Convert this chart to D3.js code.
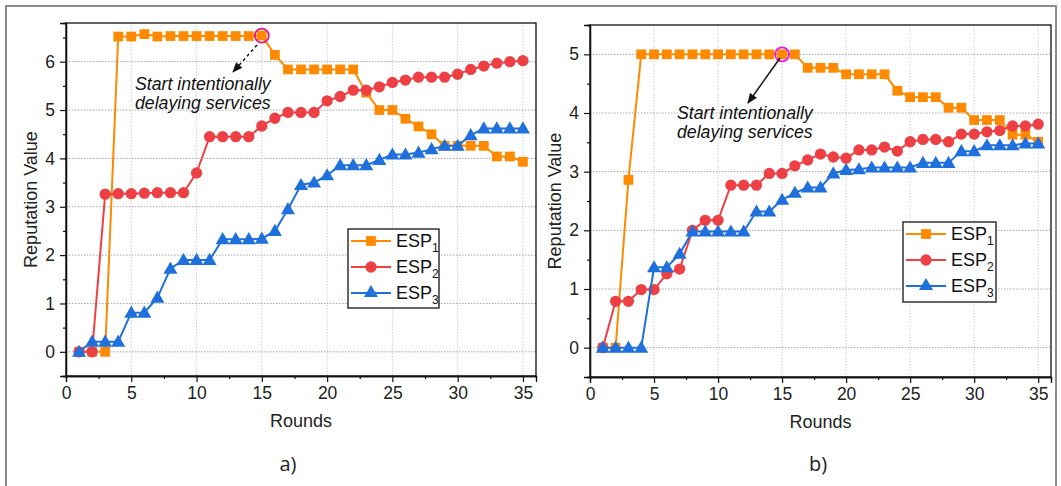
<!DOCTYPE html>
<html><head><meta charset="utf-8">
<script src="https://cdn.jsdelivr.net/npm/d3@7"></script>
<style>body{margin:0;background:#fff}svg{display:block}</style>
</head><body><svg id="c" width="1061" height="486"></svg>
<script>
const rounds = d3.range(1, 36);
const seriesNames = ["ESP1", "ESP2", "ESP3"];
const colors = ["#ff8a00", "#ee3f45", "#1f70dd"];
// Panel a)
const a_esp1 = [0,0,0,6.52,6.52,6.57,6.52,6.53,6.53,6.53,6.53,6.53,6.53,6.53,6.54,6.14,5.84,5.84,5.84,5.84,5.84,5.84,5.36,5.0,5.0,4.82,4.66,4.5,4.26,4.26,4.26,4.26,4.04,4.04,3.93];
const a_esp2 = [0,0,3.26,3.27,3.27,3.28,3.29,3.29,3.29,3.7,4.45,4.45,4.45,4.45,4.67,4.83,4.95,4.95,4.95,5.19,5.28,5.41,5.41,5.48,5.57,5.62,5.68,5.68,5.68,5.74,5.84,5.91,5.97,6.0,6.02];
const a_esp3 = [0,0.21,0.21,0.21,0.81,0.81,1.12,1.72,1.9,1.9,1.9,2.33,2.33,2.33,2.34,2.5,2.95,3.45,3.5,3.65,3.86,3.86,3.86,3.97,4.08,4.08,4.12,4.19,4.26,4.26,4.48,4.62,4.62,4.62,4.62];
// Panel b)
const b_esp1 = [0,0,2.86,5.0,5.0,5.0,5.0,5.0,5.0,5.0,5.0,5.0,5.0,5.0,5.0,5.0,4.77,4.77,4.77,4.66,4.66,4.66,4.66,4.38,4.27,4.27,4.27,4.09,4.09,3.88,3.88,3.88,3.63,3.63,3.51];
const b_esp2 = [0,0.79,0.79,0.99,0.99,1.26,1.34,2.0,2.17,2.17,2.77,2.77,2.77,2.97,2.97,3.1,3.2,3.3,3.25,3.23,3.37,3.37,3.42,3.35,3.51,3.55,3.55,3.51,3.64,3.64,3.68,3.7,3.78,3.78,3.81];
const b_esp3 = [0,0,0,0,1.37,1.37,1.6,1.98,1.98,1.98,1.98,1.98,2.32,2.32,2.52,2.64,2.73,2.73,2.97,3.03,3.04,3.07,3.07,3.07,3.07,3.15,3.15,3.15,3.35,3.35,3.45,3.45,3.45,3.48,3.48];
const xTicks = [0,5,10,15,20,25,30,35];
const a_yTicks = [0,1,2,3,4,5,6];
const b_yTicks = [0,1,2,3,4,5];
const annotText = ["Start intentionally", "delaying services"];
const panelLabels = ["a)", "b)"];

const svg = d3.select("#c");
const FONT = "'Liberation Sans', Arial, sans-serif";

// outer frame
svg.append("rect").attr("x",6).attr("y",6).attr("width",1050).attr("height",500)
  .attr("fill","none").attr("stroke","#8a8a8a").attr("stroke-width",2);

function panel(opt){
  const g = svg.append("g");
  const x = d3.scaleLinear().domain([0,36]).range([opt.x0, opt.x1]);
  const y = d3.scaleLinear().domain(opt.yDom).range([opt.y1, opt.y0]);
  // grid
  g.append("g").selectAll("line").data(xTicks).join("line")
    .attr("x1",d=>x(d)).attr("x2",d=>x(d)).attr("y1",opt.y0).attr("y2",opt.y1)
    .attr("stroke","#d0d0d0").attr("stroke-width",1).attr("stroke-dasharray","1.5,1.5");
  g.append("g").selectAll("line").data(opt.yTicks).join("line")
    .attr("x1",opt.x0).attr("x2",opt.x1).attr("y1",d=>y(d)).attr("y2",d=>y(d))
    .attr("stroke","#a8a8a8").attr("stroke-width",1).attr("stroke-dasharray","1.5,1.5");
  // frame
  g.append("rect").attr("x",opt.x0).attr("y",opt.y0).attr("width",opt.x1-opt.x0).attr("height",opt.y1-opt.y0)
    .attr("fill","none").attr("stroke","#111").attr("stroke-width",1.3);
  // axes
  const xa = g.append("g").attr("transform",`translate(0,${opt.y1})`)
    .call(d3.axisBottom(x).tickValues(xTicks).tickSize(6).tickPadding(5).tickFormat(d3.format("d")));
  const xm = g.append("g").attr("transform",`translate(0,${opt.y1})`)
    .call(d3.axisBottom(x).tickValues(d3.range(2.5,36,5)).tickSize(3).tickFormat(""));
  const ya = g.append("g").attr("transform",`translate(${opt.x0},0)`)
    .call(d3.axisLeft(y).tickValues(opt.yTicks).tickSize(6).tickPadding(5).tickFormat(d3.format("d")));
  const minorY = d3.range(opt.yDom[0], opt.yDom[1]+0.01, 0.5).filter(v=>!Number.isInteger(v));
  const ym = g.append("g").attr("transform",`translate(${opt.x0},0)`)
    .call(d3.axisLeft(y).tickValues(minorY).tickSize(3).tickFormat(""));
  [xa,xm,ya,ym].forEach(a=>{
    a.select(".domain").attr("stroke","#111").attr("stroke-width",1.3);
    a.selectAll(".tick line").attr("stroke","#111").attr("stroke-width",1.2);
    a.selectAll("text").attr("font-family",FONT).attr("font-size",17.5).attr("fill","#222");
  });
  // axis titles
  g.append("text").attr("x",(opt.x0+opt.x1)/2).attr("y",opt.y1+51).attr("text-anchor","middle")
    .attr("font-family",FONT).attr("font-size",18).attr("fill","#222").text("Rounds");
  g.append("text").attr("transform",`translate(${opt.x0-29},${(opt.y0+opt.y1)/2}) rotate(-90)`)
    .attr("text-anchor","middle").attr("font-family",FONT).attr("font-size",18).attr("fill","#222").text("Reputation Value");
  g.append("text").attr("x",opt.labelX).attr("y",471).attr("text-anchor","middle")
    .attr("font-family","'Open Sans', sans-serif").attr("font-size",20).attr("fill","#222").text(opt.label);

  // series
  const line = d3.line().x((d,i)=>x(rounds[i])).y(d=>y(d));
  const sq = d3.symbol().type(d3.symbolSquare).size(95);
  const ci = d3.symbol().type(d3.symbolCircle).size(100);
  const tr = d3.symbol().type(d3.symbolTriangle).size(85);
  const syms = [sq, ci, tr];
  [0,1,2].forEach(k=>{
    const data = opt.series[k];
    const sg = g.append("g");
    sg.append("path").attr("d",line(data)).attr("fill","none").attr("stroke",colors[k]).attr("stroke-width",2);
    sg.selectAll("path.m").data(data).join("path").attr("class","m")
      .attr("transform",(d,i)=>`translate(${x(rounds[i])},${y(d) + (k===2?1:0)})`)
      .attr("d",syms[k]()).attr("fill",colors[k]);
  });
  // highlight circle
  g.append("circle").attr("cx",x(15)).attr("cy",y(opt.series[0][14])).attr("r",7)
    .attr("fill","none").attr("stroke",opt.circleColor).attr("stroke-width",1.8);
  // arrow
  const defs = svg.append("defs");
  defs.append("marker").attr("id","ah"+opt.label[0]).attr("viewBox","0 0 10 10").attr("refX",9).attr("refY",5)
    .attr("markerWidth",7).attr("markerHeight",7).attr("orient","auto")
    .append("path").attr("d","M0,1 L10,5 L0,9 Z").attr("fill","#111");
  g.append("line").attr("x1",opt.arrow[0]).attr("y1",opt.arrow[1]).attr("x2",opt.arrow[2]).attr("y2",opt.arrow[3])
    .attr("stroke","#111").attr("stroke-width",1.5).attr("stroke-dasharray",opt.dash)
    .attr("marker-end",`url(#ah${opt.label[0]})`);
  annotText.forEach((t,i)=>{
    g.append("text").attr("x",opt.textX).attr("y",opt.textY+i*19)
      .attr("font-family",FONT).attr("font-style","italic").attr("font-size",17.7).attr("fill","#111").text(t);
  });
  // legend
  const L = opt.legend;
  const lg = g.append("g").attr("transform",`translate(${L[0]},${L[1]})`);
  lg.append("rect").attr("width",L[2]).attr("height",L[3]).attr("fill","#fff").attr("stroke","#333").attr("stroke-width",1.5);
  seriesNames.forEach((n,k)=>{
    const yy = 12 + k*26;
    lg.append("line").attr("x1",3).attr("x2",43).attr("y1",yy).attr("y2",yy).attr("stroke",colors[k]).attr("stroke-width",2);
    lg.append("path").attr("transform",`translate(23,${yy})`).attr("d",syms[k]()).attr("fill",colors[k]);
    const t = lg.append("text").attr("x",48).attr("y",yy+6).attr("font-family",FONT).attr("font-size",18).attr("fill","#111");
    t.append("tspan").text("ESP");
    t.append("tspan").attr("dy",5).attr("font-size",12).text(n.slice(3));
  });
}

panel({x0:66,x1:536,y0:23,y1:376,yDom:[-0.5,6.8],yTicks:a_yTicks,series:[a_esp1,a_esp2,a_esp3],
  label:panelLabels[0],labelX:288,circleColor:"#dc1a8f",arrow:[257,45,233,72],dash:"3,3",
  textX:135,textY:90,legend:[348,229,91,79]});
panel({x0:590,x1:1051,y0:25,y1:377,yDom:[-0.5,5.5],yTicks:b_yTicks,series:[b_esp1,b_esp2,b_esp3],
  label:panelLabels[1],labelX:818,circleColor:"#ee10ee",arrow:[780,58,748,103],dash:null,
  textX:677,textY:119,legend:[903,222,93,80]});
</script></body></html>
